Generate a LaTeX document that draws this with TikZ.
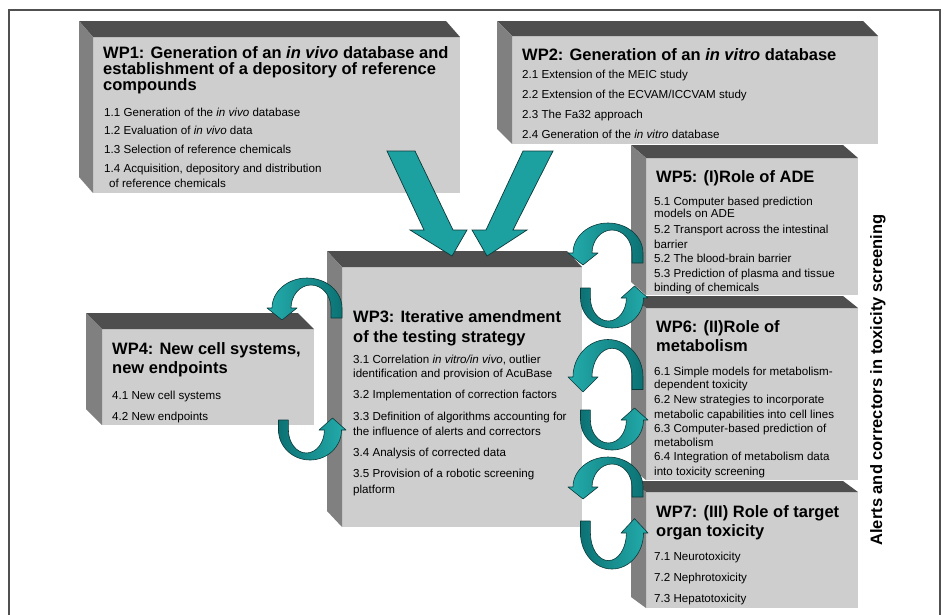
\documentclass[tikz,border=0pt]{standalone}
\usepackage{fontspec}
\setmainfont{Liberation Sans}
\usetikzlibrary{calc}

\definecolor{slabface}{RGB}{206,206,206}
\definecolor{slabtop}{RGB}{78,78,78}
\definecolor{slabside}{RGB}{128,128,128}
\definecolor{tealhi}{RGB}{36,172,172}
\definecolor{tealdk}{RGB}{12,114,116}
\definecolor{tealfill}{RGB}{28,160,160}
\definecolor{tealedge}{RGB}{12,58,58}
\definecolor{framegray}{RGB}{80,80,80}

\tikzset{
  face/.style={fill=slabface, draw=none, inner sep=0pt, outer sep=0pt, anchor=north west},
  ttl/.style={anchor=base west, inner sep=0pt, font=\fontsize{16.5}{18}\selectfont\bfseries},
  itm/.style={anchor=base west, inner sep=0pt, font=\fontsize{11.6}{14}\selectfont},
  ribbon/.style={draw=tealedge, line width=0.6pt, line join=round},
  block/.style={fill=tealfill, draw=tealedge, line width=0.7pt, line join=miter},
  frame/.style={draw=framegray, line width=1.2pt},
  % loop ribbon, head on the left pointing down, tail on the right
  loopcap/.pic={
    \path[ribbon, left color=tealhi, right color=tealdk]
      (-35,0) .. controls (-35,-16.6) and (-19.3,-30) .. (0,-30)
      .. controls (19.3,-30) and (35,-16.6) .. (35,0) -- (35,10) -- (24,10) -- (24,0)
      .. controls (24,-12.7) and (15.04,-23) .. (4,-23)
      .. controls (-7.04,-23) and (-16,-12.7) .. (-16,0)
      -- (-10,0) -- (-25,12) -- (-40,0) -- cycle;
  },
  % loop ribbon, tail on the left, head on the right pointing up
  loopcup/.pic={
    \path[ribbon, left color=tealdk, right color=tealhi]
      (31.5,0) .. controls (31.5,16.6) and (17.37,30) .. (0,30)
      .. controls (-17.37,30) and (-31.5,16.6) .. (-31.5,0) -- (-31.5,-10) -- (-21.6,-10) -- (-21.6,0)
      .. controls (-21.6,12.7) and (-13.54,23) .. (-3.6,23)
      .. controls (6.34,23) and (14.4,12.7) .. (14.4,0)
      -- (9,0) -- (22.5,-12) -- (36,0) -- cycle;
  },
}

% top and left bevel of a work-package slab
\newcommand\extrude[3]{%
  \fill[slabtop] ($(#1.north west)+(-#2,-#3)$) -- ($(#1.north east)+(-#2,-#3)$)
     -- (#1.north east) -- (#1.north west) -- cycle;
  \fill[slabside] ($(#1.north west)+(-#2,-#3)$) -- (#1.north west)
     -- (#1.south west) -- ($(#1.south west)+(-#2,-#3)$) -- cycle;
}

\begin{document}
\begin{tikzpicture}[x=1pt,y=-1pt]
\useasboundingbox (0,0) rectangle (945,614);
\fill[white] (0,0) rectangle (945,614);
\draw[frame] (9,620) -- (9,10) -- (940,10) -- (940,620);

% work-package slabs
\node[face, minimum width=367pt, minimum height=156pt] (wp1) at (93,37) {};
\extrude{wp1}{14}{16}
\node[face, minimum width=366pt, minimum height=108pt] (wp2) at (512,36) {};
\extrude{wp2}{15}{15}
\node[face, minimum width=212pt, minimum height=137pt] (wp5) at (646,158) {};
\extrude{wp5}{15}{13}
\node[face, minimum width=212pt, minimum height=172pt] (wp6) at (646,308) {};
\extrude{wp6}{15}{12}
\node[face, minimum width=212pt, minimum height=116pt] (wp7) at (646,492) {};
\extrude{wp7}{15}{11}
\node[face, minimum width=212pt, minimum height=96pt] (wp4) at (102,329) {};
\extrude{wp4}{16}{16}
\node[face, minimum width=240pt, minimum height=260pt] (wp3) at (342,267) {};
\extrude{wp3}{15}{16}

% WP1
\node[ttl] (w1t1) at (103,58) {WP1: Generation of an \textit{in vivo} database and};
\node[ttl] (w1t2) at (103,74) {establishment of a depository of reference};
\node[ttl] (w1t3) at (103,90) {compounds};
\node[itm] (w1a) at (104,116) {1.1 Generation of the \textit{in vivo} database};
\node[itm] (w1b) at (104,134) {1.2 Evaluation of \textit{in vivo} data};
\node[itm] (w1c) at (104,153) {1.3 Selection of reference chemicals};
\node[itm] (w1d) at (104,172) {1.4 Acquisition, depository and distribution};
\node[itm] (w1e) at (109,187) {of reference chemicals};

% WP2
\node[ttl] (w2t) at (522,60) {WP2: Generation of an \textit{in vitro} database};
\node[itm] (w2a) at (522,78) {2.1 Extension of the MEIC study};
\node[itm] (w2b) at (522,98) {2.2 Extension of the ECVAM/ICCVAM study};
\node[itm] (w2c) at (522,118) {2.3 The Fa32 approach};
\node[itm] (w2d) at (522,138) {2.4 Generation of the \textit{in vitro} database};

% WP5
\node[ttl] (w5t) at (656,182) {WP5: (I)Role of ADE};
\node[itm] (w5a) at (654,205) {5.1 Computer based prediction};
\node[itm] (w5b) at (654,217) {models on ADE};
\node[itm] (w5c) at (654,233) {5.2 Transport across the intestinal};
\node[itm] (w5d) at (654,248) {barrier};
\node[itm] (w5e) at (654,262) {5.2 The blood-brain barrier};
\node[itm] (w5f) at (654,277) {5.3 Prediction of plasma and tissue};
\node[itm] (w5g) at (654,291) {binding of chemicals};

% WP6
\node[ttl] (w6t1) at (656,332) {WP6: (II)Role of};
\node[ttl] (w6t2) at (656,351) {metabolism};
\node[itm] (w6a) at (654,375) {6.1 Simple models for metabolism-};
\node[itm] (w6b) at (654,388) {dependent toxicity};
\node[itm] (w6c) at (654,403) {6.2 New strategies to incorporate};
\node[itm] (w6d) at (654,418) {metabolic capabilities into cell lines};
\node[itm] (w6e) at (654,432) {6.3 Computer-based prediction of};
\node[itm] (w6f) at (654,446) {metabolism};
\node[itm] (w6g) at (654,460) {6.4 Integration of metabolism data};
\node[itm] (w6h) at (654,475) {into toxicity screening};

% WP7
\node[ttl] (w7t1) at (656,517) {WP7: (III) Role of target};
\node[ttl] (w7t2) at (656,536) {organ toxicity};
\node[itm] (w7a) at (654,560) {7.1 Neurotoxicity};
\node[itm] (w7b) at (654,581) {7.2 Nephrotoxicity};
\node[itm] (w7c) at (654,602) {7.3 Hepatotoxicity};

% WP3
\node[ttl] (w3t1) at (353,322) {WP3: Iterative amendment};
\node[ttl] (w3t2) at (353,342) {of the testing strategy};
\node[itm] (w3a) at (353,363) {3.1 Correlation \textit{in vitro/in vivo}, outlier};
\node[itm] (w3b) at (353,377) {identification and provision of AcuBase};
\node[itm] (w3c) at (353,398) {3.2 Implementation of correction factors};
\node[itm] (w3d) at (353,420) {3.3 Definition of algorithms accounting for};
\node[itm] (w3e) at (353,435) {the influence of alerts and correctors};
\node[itm] (w3f) at (353,456) {3.4 Analysis of corrected data};
\node[itm] (w3g) at (353,477) {3.5 Provision of a robotic screening};
\node[itm] (w3h) at (353,493) {platform};

% WP4
\node[ttl] (w4t1) at (112,354) {WP4: New cell systems,};
\node[ttl] (w4t2) at (112,373) {new endpoints};
\node[itm] (w4a) at (112,399) {4.1 New cell systems};
\node[itm] (w4b) at (112,420) {4.2 New endpoints};

% side caption
\node[rotate=90, inner sep=0pt, font=\fontsize{16.5}{18}\selectfont\bfseries] (side) at (878,380)
  {Alerts and correctors in toxicity screening};

% block arrows from WP1 and WP2 into WP3
\path[block] (387,151) -- (415,151) -- (453,230) -- (467,230) -- (452,256)
  -- (410,230) -- (424,230) -- cycle;
\path[block] (523,151) -- (553,151) -- (513,230) -- (527,230) -- (487,256)
  -- (472,230) -- (486,230) -- cycle;

% feedback loops
\coordinate (lpA) at (307,308);
\coordinate (lpB) at (310,430);
\coordinate (lpC) at (608,253);
\coordinate (lpD) at (612,298);
\coordinate (lpE) at (608,377);
\coordinate (lpF) at (612,420);
\coordinate (lpG) at (608,487);
\coordinate (lpH) at (612,533);
\pic at (lpA) {loopcap};
\pic at (lpB) {loopcup};
\pic at (lpC) {loopcap};
\pic at (lpD) {loopcup};
\pic[yscale=1.25] at (lpE) {loopcap};
\pic at (lpF) {loopcup};
\pic at (lpG) {loopcap};
\pic[yscale=1.2] at (lpH) {loopcup};
\end{tikzpicture}
\end{document}
